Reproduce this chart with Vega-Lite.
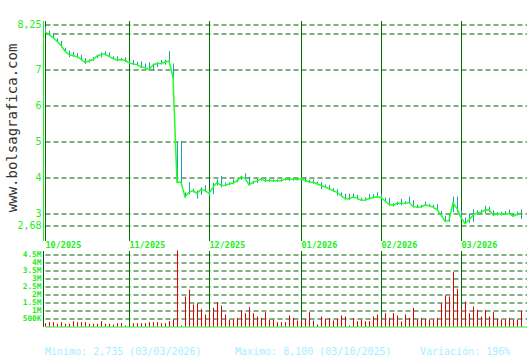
{
  "$schema": "https://vega.github.io/schema/vega-lite/v6.json",
  "padding": {"left": 5, "top": 19.5, "right": 0, "bottom": 0},
  "background": "white",
  "bounds": "flush",
  "spacing": 10,
  "config": {"view": {"stroke": null}, "font": "DejaVu Sans Mono"},
  "datasets": {
    "d": [
      {"i":0,"c":8.06,"h":8.20,"l":8.03,"v":208000},
      {"i":1,"c":7.98,"h":8.09,"l":7.95,"v":270000},
      {"i":2,"c":7.90,"h":8.02,"l":7.86,"v":270000},
      {"i":3,"c":7.80,"h":7.88,"l":7.78,"v":167000},
      {"i":4,"c":7.68,"h":7.81,"l":7.63,"v":270000},
      {"i":5,"c":7.52,"h":7.62,"l":7.50,"v":167000},
      {"i":6,"c":7.43,"h":7.54,"l":7.36,"v":167000},
      {"i":7,"c":7.40,"h":7.50,"l":7.36,"v":333000},
      {"i":8,"c":7.37,"h":7.47,"l":7.33,"v":270000},
      {"i":9,"c":7.30,"h":7.42,"l":7.26,"v":270000},
      {"i":10,"c":7.21,"h":7.33,"l":7.17,"v":270000},
      {"i":11,"c":7.25,"h":7.30,"l":7.21,"v":167000},
      {"i":12,"c":7.29,"h":7.36,"l":7.25,"v":167000},
      {"i":13,"c":7.39,"h":7.42,"l":7.33,"v":167000},
      {"i":14,"c":7.43,"h":7.49,"l":7.35,"v":333000},
      {"i":15,"c":7.45,"h":7.52,"l":7.40,"v":167000},
      {"i":16,"c":7.38,"h":7.49,"l":7.36,"v":167000},
      {"i":17,"c":7.32,"h":7.38,"l":7.30,"v":125000},
      {"i":18,"c":7.28,"h":7.38,"l":7.24,"v":208000},
      {"i":19,"c":7.29,"h":7.33,"l":7.26,"v":208000},
      {"i":20,"c":7.27,"h":7.35,"l":7.22,"v":62000},
      {"i":21,"c":7.20,"h":7.26,"l":7.18,"v":100000},
      {"i":22,"c":7.17,"h":7.28,"l":7.14,"v":208000},
      {"i":23,"c":7.15,"h":7.22,"l":7.12,"v":208000},
      {"i":24,"c":7.08,"h":7.24,"l":7.06,"v":208000},
      {"i":25,"c":7.06,"h":7.18,"l":7.03,"v":208000},
      {"i":26,"c":7.01,"h":7.21,"l":6.98,"v":270000},
      {"i":27,"c":7.14,"h":7.18,"l":6.98,"v":270000},
      {"i":28,"c":7.18,"h":7.22,"l":7.08,"v":270000},
      {"i":29,"c":7.18,"h":7.28,"l":7.15,"v":208000},
      {"i":30,"c":7.22,"h":7.28,"l":7.15,"v":208000},
      {"i":31,"c":7.25,"h":7.52,"l":7.18,"v":333000},
      {"i":32,"c":6.80,"h":7.18,"l":6.75,"v":458000},
      {"i":33,"c":3.88,"h":5.00,"l":3.85,"v":4750000},
      {"i":34,"c":3.88,"h":5.03,"l":3.85,"v":62000},
      {"i":35,"c":3.48,"h":3.60,"l":3.45,"v":1875000},
      {"i":36,"c":3.60,"h":3.88,"l":3.55,"v":2310000},
      {"i":37,"c":3.65,"h":3.70,"l":3.60,"v":1375000},
      {"i":38,"c":3.57,"h":3.65,"l":3.43,"v":1460000},
      {"i":39,"c":3.69,"h":3.74,"l":3.53,"v":1100000},
      {"i":40,"c":3.65,"h":3.80,"l":3.62,"v":750000},
      {"i":41,"c":3.57,"h":3.65,"l":3.50,"v":896000},
      {"i":42,"c":3.74,"h":3.87,"l":3.55,"v":1170000},
      {"i":43,"c":3.88,"h":3.96,"l":3.79,"v":1520000},
      {"i":44,"c":3.79,"h":4.06,"l":3.74,"v":1310000},
      {"i":45,"c":3.80,"h":3.88,"l":3.77,"v":750000},
      {"i":46,"c":3.83,"h":3.88,"l":3.80,"v":437000},
      {"i":47,"c":3.86,"h":3.96,"l":3.82,"v":437000},
      {"i":48,"c":3.92,"h":3.97,"l":3.88,"v":542000},
      {"i":49,"c":4.03,"h":4.06,"l":3.95,"v":1000000},
      {"i":50,"c":3.99,"h":4.13,"l":3.95,"v":833000},
      {"i":51,"c":3.81,"h":4.03,"l":3.79,"v":1210000},
      {"i":52,"c":3.88,"h":3.92,"l":3.84,"v":833000},
      {"i":53,"c":3.92,"h":3.99,"l":3.86,"v":625000},
      {"i":54,"c":3.97,"h":4.00,"l":3.93,"v":542000},
      {"i":55,"c":3.92,"h":3.98,"l":3.89,"v":896000},
      {"i":56,"c":3.93,"h":3.97,"l":3.90,"v":437000},
      {"i":57,"c":3.92,"h":3.96,"l":3.89,"v":437000},
      {"i":58,"c":3.92,"h":3.96,"l":3.89,"v":270000},
      {"i":59,"c":3.92,"h":3.96,"l":3.90,"v":270000},
      {"i":60,"c":3.97,"h":4.00,"l":3.93,"v":270000},
      {"i":61,"c":3.96,"h":4.01,"l":3.92,"v":687000},
      {"i":62,"c":3.97,"h":4.01,"l":3.93,"v":542000},
      {"i":63,"c":3.96,"h":4.00,"l":3.93,"v":375000},
      {"i":64,"c":3.98,"h":4.02,"l":3.95,"v":437000},
      {"i":65,"c":3.93,"h":4.02,"l":3.88,"v":479000},
      {"i":66,"c":3.89,"h":3.95,"l":3.86,"v":896000},
      {"i":67,"c":3.88,"h":3.96,"l":3.84,"v":375000},
      {"i":68,"c":3.84,"h":3.90,"l":3.81,"v":125000},
      {"i":69,"c":3.79,"h":3.88,"l":3.69,"v":625000},
      {"i":70,"c":3.75,"h":3.82,"l":3.72,"v":479000},
      {"i":71,"c":3.70,"h":3.80,"l":3.66,"v":521000},
      {"i":72,"c":3.65,"h":3.72,"l":3.62,"v":375000},
      {"i":73,"c":3.60,"h":3.69,"l":3.51,"v":479000},
      {"i":74,"c":3.52,"h":3.60,"l":3.48,"v":687000},
      {"i":75,"c":3.42,"h":3.56,"l":3.40,"v":625000},
      {"i":76,"c":3.42,"h":3.56,"l":3.39,"v":62000},
      {"i":77,"c":3.47,"h":3.57,"l":3.44,"v":521000},
      {"i":78,"c":3.44,"h":3.53,"l":3.40,"v":333000},
      {"i":79,"c":3.38,"h":3.45,"l":3.36,"v":437000},
      {"i":80,"c":3.39,"h":3.46,"l":3.36,"v":333000},
      {"i":81,"c":3.43,"h":3.55,"l":3.40,"v":333000},
      {"i":82,"c":3.46,"h":3.55,"l":3.43,"v":625000},
      {"i":83,"c":3.48,"h":3.60,"l":3.45,"v":750000},
      {"i":84,"c":3.46,"h":3.56,"l":3.42,"v":500000},
      {"i":85,"c":3.36,"h":3.45,"l":3.33,"v":833000},
      {"i":86,"c":3.27,"h":3.45,"l":3.23,"v":542000},
      {"i":87,"c":3.24,"h":3.30,"l":3.21,"v":833000},
      {"i":88,"c":3.29,"h":3.34,"l":3.25,"v":687000},
      {"i":89,"c":3.29,"h":3.42,"l":3.24,"v":313000},
      {"i":90,"c":3.30,"h":3.36,"l":3.27,"v":750000},
      {"i":91,"c":3.32,"h":3.48,"l":3.30,"v":542000},
      {"i":92,"c":3.21,"h":3.38,"l":3.18,"v":1170000},
      {"i":93,"c":3.19,"h":3.26,"l":3.17,"v":437000},
      {"i":94,"c":3.20,"h":3.25,"l":3.17,"v":542000},
      {"i":95,"c":3.25,"h":3.34,"l":3.22,"v":479000},
      {"i":96,"c":3.23,"h":3.28,"l":3.20,"v":437000},
      {"i":97,"c":3.19,"h":3.25,"l":3.16,"v":437000},
      {"i":98,"c":3.12,"h":3.27,"l":3.08,"v":542000},
      {"i":99,"c":2.97,"h":3.08,"l":2.93,"v":1460000},
      {"i":100,"c":2.80,"h":2.95,"l":2.77,"v":1940000},
      {"i":101,"c":2.82,"h":3.02,"l":2.78,"v":1875000},
      {"i":102,"c":3.31,"h":3.48,"l":3.05,"v":3400000},
      {"i":103,"c":3.15,"h":3.48,"l":3.05,"v":2350000},
      {"i":104,"c":2.90,"h":3.10,"l":2.85,"v":1100000},
      {"i":105,"c":2.735,"h":2.90,"l":2.735,"v":1560000},
      {"i":106,"c":2.84,"h":3.00,"l":2.75,"v":833000},
      {"i":107,"c":2.96,"h":3.13,"l":2.78,"v":1250000},
      {"i":108,"c":3.03,"h":3.10,"l":2.98,"v":1040000},
      {"i":109,"c":3.05,"h":3.12,"l":3.00,"v":625000},
      {"i":110,"c":3.11,"h":3.23,"l":3.02,"v":1040000},
      {"i":111,"c":3.12,"h":3.20,"l":3.05,"v":625000},
      {"i":112,"c":2.97,"h":3.10,"l":2.95,"v":896000},
      {"i":113,"c":2.99,"h":3.05,"l":2.96,"v":479000},
      {"i":114,"c":3.00,"h":3.06,"l":2.96,"v":437000},
      {"i":115,"c":3.00,"h":3.08,"l":2.97,"v":437000},
      {"i":116,"c":3.01,"h":3.12,"l":2.98,"v":542000},
      {"i":117,"c":2.94,"h":3.02,"l":2.92,"v":437000},
      {"i":118,"c":2.99,"h":3.06,"l":2.96,"v":437000},
      {"i":119,"c":3.02,"h":3.13,"l":2.86,"v":958000}
    ],
    "brand": [{"i": -8.0, "p": 5.39, "t": "www.bolsagrafica.com"}],
    "notes": [
      {"i": 0, "v": 0, "t": "Minimo: 2,735 (03/03/2026)"},
      {"i": 47.5, "v": 0, "t": "Maximo: 8,100 (03/10/2025)"},
      {"i": 93.75, "v": 0, "t": "Variación: 196%"}
    ]
  },
  "vconcat": [
    {
      "width": 482,
      "height": 220,
      "layer": [
        {
          "data": {"name": "d"},
          "mark": {"type": "rule", "color": "#19a0b4", "strokeWidth": 1, "xOffset": 0.5},
          "encoding": {
            "x": {
              "field": "i", "type": "quantitative",
              "scale": {"domain": [0, 120.5], "nice": false, "zero": false},
              "axis": {
                "values": [0, 21, 41, 64, 84, 104], "tickCount": 50,
                "labelExpr": "datum.value==0?'10/2025':datum.value==21?'11/2025':datum.value==41?'12/2025':datum.value==64?'01/2026':datum.value==84?'02/2026':'03/2026'",
                "title": null, "domain": false, "ticks": false,
                "grid": true, "gridColor": "#007000", "gridWidth": 1, "gridOpacity": 1,
                "labelAlign": "left", "labelBaseline": "top", "labelPadding": 0, "labelDx": 1,
                "labelFont": "DejaVu Sans Mono", "labelFontSize": 8.5, "labelFontWeight": "bold",
                "labelColor": "#22ee22", "labelFlush": false, "labelOverlap": false
              }
            },
            "y": {
              "field": "l", "type": "quantitative",
              "scale": {"domain": [2.263, 8.375], "nice": false, "zero": false},
              "axis": {
                "values": [2.68, 3, 4, 5, 6, 7, 8, 8.25], "tickCount": 50,
                "labelExpr": "datum.value==8?'':replace(toString(datum.value),'.',',')",
                "title": null, "ticks": false,
                "grid": true, "gridColor": "#006000", "gridDash": [5, 3], "gridWidth": 1, "gridOpacity": 1,
                "domain": true, "domainColor": "#22ee22", "domainWidth": 1, "offset": 2,
                "labelPadding": 2, "labelFont": "DejaVu Sans Mono", "labelFontSize": 10,
                "labelColor": "#22ee22", "labelFlush": false, "labelOverlap": false
              }
            },
            "y2": {"field": "h"}
          }
        },
        {
          "data": {"name": "d"},
          "mark": {"type": "line", "color": "#22ff22", "strokeWidth": 1.5},
          "encoding": {
            "x": {"field": "i", "type": "quantitative", "scale": {"domain": [0, 120.5], "nice": false, "zero": false}},
            "y": {"field": "c", "type": "quantitative", "scale": {"domain": [2.263, 8.375], "nice": false, "zero": false}}
          }
        },
        {
          "data": {"name": "brand"},
          "mark": {"type": "text", "angle": 270, "font": "DejaVu Sans Mono", "fontSize": 14, "color": "#333333", "align": "center", "baseline": "middle"},
          "encoding": {
            "x": {"field": "i", "type": "quantitative", "scale": {"domain": [0, 120.5], "nice": false, "zero": false}},
            "y": {"field": "p", "type": "quantitative", "scale": {"domain": [2.263, 8.375], "nice": false, "zero": false}},
            "text": {"field": "t"}
          }
        }
      ]
    },
    {
      "width": 482,
      "height": 76,
      "layer": [
        {
          "data": {"name": "d"},
          "mark": {"type": "rule", "color": "#dd0000", "strokeWidth": 1, "xOffset": 0.5},
          "encoding": {
            "x": {
              "field": "i", "type": "quantitative",
              "scale": {"domain": [0, 120.5], "nice": false, "zero": false},
              "axis": {
                "values": [21, 41, 64, 84, 104], "tickCount": 50, "labels": false, "ticks": false, "title": null,
                "domain": true, "domainColor": "#22ee22", "domainWidth": 1,
                "grid": true, "gridColor": "#007000", "gridWidth": 1, "gridOpacity": 1
              }
            },
            "y": {
              "field": "v", "type": "quantitative",
              "scale": {"domain": [0, 4750000], "nice": false, "zero": true},
              "axis": {
                "values": [500000, 1000000, 1500000, 2000000, 2500000, 3000000, 3500000, 4000000, 4500000], "tickCount": 50,
                "labelExpr": "datum.value < 1000000 ? format(datum.value/1000,'d') + 'K' : format(datum.value/1000000,'~g') + 'M'",
                "title": null, "ticks": false,
                "grid": true, "gridColor": "#006000", "gridDash": [5, 3], "gridWidth": 1, "gridOpacity": 1,
                "domain": true, "domainColor": "#006000", "offset": 2,
                "labelPadding": 2, "labelFont": "DejaVu Sans Mono", "labelFontSize": 7.8, "labelFontWeight": "bold",
                "labelColor": "#22ee22", "labelFlush": false, "labelOverlap": false
              }
            },
            "y2": {"datum": 0}
          }
        },
        {
          "data": {"name": "notes"},
          "mark": {"type": "text", "font": "DejaVu Sans Mono", "fontSize": 10, "color": "#a6eeff", "align": "left", "baseline": "middle", "dy": 25},
          "encoding": {
            "x": {"field": "i", "type": "quantitative", "scale": {"domain": [0, 120.5], "nice": false, "zero": false}},
            "y": {"field": "v", "type": "quantitative", "scale": {"domain": [0, 4750000], "nice": false, "zero": true}},
            "text": {"field": "t"}
          }
        }
      ]
    }
  ]
}
